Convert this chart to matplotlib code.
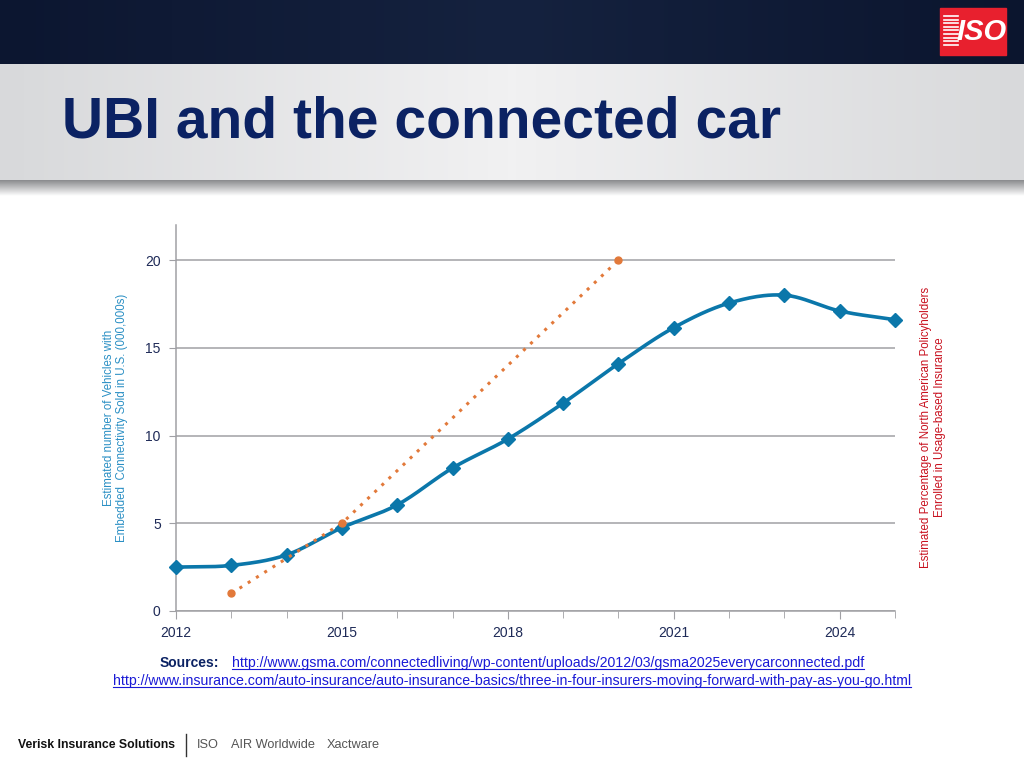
import numpy as np
import matplotlib
matplotlib.use('Agg')
import matplotlib.pyplot as plt
from matplotlib.patches import Rectangle

plt.rcParams['font.family'] = ['Liberation Sans', 'DejaVu Sans']

# data
years = [2012, 2013, 2014, 2015, 2016, 2017, 2018, 2019, 2020, 2021, 2022, 2023, 2024, 2025]
vehicles = [2.5, 2.6, 3.2, 4.75, 6.05, 8.15, 9.8, 11.85, 14.1, 16.15, 17.55, 18.0, 17.1, 16.6]
ubi_years = [2013, 2015, 2020]
ubi_pct = [1, 5, 20]
x_ticks = [2012, 2015, 2018, 2021, 2024]
y_ticks = [0, 5, 10, 15, 20]

BLUE = '#0B77AA'
ORANGE = '#E2793A'
NAVY = '#0B2263'
TICK = '#1E2A57'


def smooth(xs, ys, n=24):
    # catmull-rom pass through the points, like excel's smoothed line
    xs = np.asarray(xs, float)
    ys = np.asarray(ys, float)
    px = np.concatenate([[2 * xs[0] - xs[1]], xs, [2 * xs[-1] - xs[-2]]])
    py = np.concatenate([[2 * ys[0] - ys[1]], ys, [2 * ys[-1] - ys[-2]]])
    out_x, out_y = [], []
    t = np.linspace(0, 1, n, endpoint=False)
    for i in range(1, len(px) - 2):
        for p, out in ((px, out_x), (py, out_y)):
            p0, p1, p2, p3 = p[i - 1], p[i], p[i + 1], p[i + 2]
            out.extend(0.5 * ((2 * p1) + (-p0 + p2) * t
                              + (2 * p0 - 5 * p1 + 4 * p2 - p3) * t ** 2
                              + (-p0 + 3 * p1 - 3 * p2 + p3) * t ** 3))
    out_x.append(xs[-1])
    out_y.append(ys[-1])
    return out_x, out_y


fig = plt.figure(figsize=(10.24, 7.68), dpi=100)

# slide background in pixel coordinates
bg = fig.add_axes([0, 0, 1, 1])
bg.set_xlim(0, 1024)
bg.set_ylim(768, 0)
bg.axis('off')

navy_grad = np.linspace(0, 1, 256).reshape(1, -1)
bg.imshow(navy_grad, extent=[0, 1024, 64, 0], aspect='auto',
          cmap=matplotlib.colors.LinearSegmentedColormap.from_list('n', ['#0C1630', '#15223F', '#0B152E']))
grey_grad = np.abs(np.linspace(-1, 1, 256)).reshape(1, -1)
bg.imshow(grey_grad, extent=[0, 1024, 180, 64], aspect='auto',
          cmap=matplotlib.colors.LinearSegmentedColormap.from_list('g', ['#F1F1F2', '#D8D9DB']))
shadow = np.linspace(0, 1, 64).reshape(-1, 1)
bg.imshow(shadow, extent=[0, 1024, 196, 180], aspect='auto',
          cmap=matplotlib.colors.LinearSegmentedColormap.from_list('s', ['#8A8B8E', '#FFFFFF']))

# ISO logo
bg.add_patch(Rectangle((940, 8), 66, 47, color='#E8202E'))
for k in range(9):
    bg.plot([944, 958], [16 + k * 3.6, 16 + k * 3.6], color='white', lw=1.2)
bg.text(982, 32, 'ISO', color='white', fontsize=21, fontweight='bold',
        fontstyle='italic', ha='center', va='center')

bg.text(62, 123, 'UBI and the connected car', color=NAVY, fontsize=41,
        fontweight='bold', ha='left', va='center')

# chart
ax = fig.add_axes([176 / 1024, 157 / 768, 719 / 1024, 386 / 768])
ax.set_xlim(2012, 2025)
ax.set_ylim(0, 22)

sx, sy = smooth(years, vehicles)
ax.plot(sx, sy, color=BLUE, lw=2.6, zorder=3, clip_on=False)
ax.plot(years, vehicles, linestyle='none', marker='D', ms=7.5, color=BLUE, zorder=4, clip_on=False)
ax.plot(ubi_years, ubi_pct, color=ORANGE, linestyle=(0, (1, 2.2)), lw=2.2,
        marker='o', ms=5, zorder=5, clip_on=False)

ax.set_yticks(y_ticks)
ax.set_xticks(x_ticks)
ax.set_xticks(years, minor=True)
ax.grid(axis='y', color='#A0A0A4', lw=1.1)
ax.set_axisbelow(True)
for side in ['top', 'right']:
    ax.spines[side].set_visible(False)
for side in ['left', 'bottom']:
    ax.spines[side].set_color('#A0A0A4')
    ax.spines[side].set_linewidth(1.1)
ax.tick_params(axis='both', which='both', color='#A0A0A4', labelcolor=TICK, labelsize=10)
ax.tick_params(axis='x', which='major', length=6, pad=5)
ax.tick_params(axis='x', which='minor', length=5)
ax.tick_params(axis='y', length=5, pad=6)

ax.set_ylabel('Estimated number of Vehicles with\nEmbedded  Connectivity Sold in U.S. (000,000s)',
              color='#2A8FC4', fontsize=8.3, labelpad=12)

fig.text(933 / 1024, 1 - 427 / 768,
         'Estimated Percentage of North American Policyholders\nEnrolled in Usage-based Insurance',
         color='#C8101E', fontsize=8.3, rotation=90, ha='center', va='center')

# sources
fig.text(160 / 1024, 1 - 663 / 768, 'Sources:', color=NAVY, fontsize=10,
         fontweight='bold', ha='left', va='center')
src = [
    (232, 663, 'http://www.gsma.com/connectedliving/wp-content/uploads/2012/03/gsma2025everycarconnected.pdf'),
    (113, 681, 'http://www.insurance.com/auto-insurance/auto-insurance-basics/three-in-four-insurers-moving-forward-with-pay-as-you-go.html'),
]
links = []
for x, y, s in src:
    links.append(fig.text(x / 1024, 1 - y / 768, s, color='#1A1AD6', fontsize=10.2,
                          ha='left', va='center'))

# footer
fig.text(18 / 1024, 1 - 745 / 768, 'Verisk Insurance Solutions', color='#111111',
         fontsize=8.8, fontweight='bold', ha='left', va='center')
bg.plot([186, 186], [734, 756], color='#333333', lw=1)
for x, s in [(197, 'ISO'), (231, 'AIR Worldwide'), (327, 'Xactware')]:
    fig.text(x / 1024, 1 - 745 / 768, s, color='#555555', fontsize=9.2,
             ha='left', va='center')

# underline the links
fig.canvas.draw()
r = fig.canvas.get_renderer()
for t in links:
    bb = t.get_window_extent(r)
    yy = 768 - bb.y0 - 1
    bg.plot([bb.x0, bb.x1], [yy, yy], color='#1A1AD6', lw=0.8)

plt.savefig('out.png', dpi=100)
